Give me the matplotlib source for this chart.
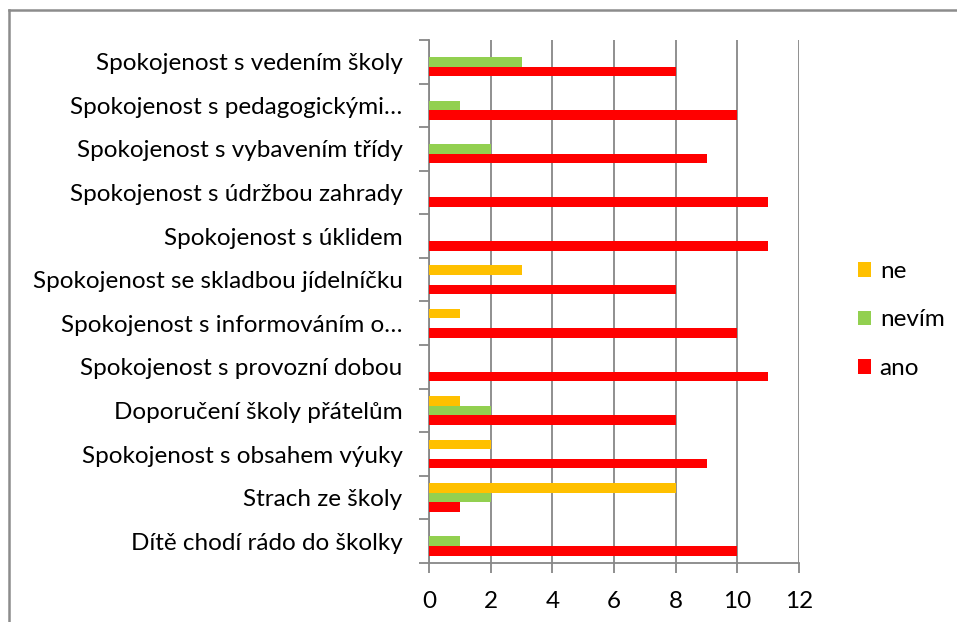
import matplotlib
matplotlib.use("Agg")
import matplotlib.pyplot as plt
from matplotlib.lines import Line2D
import numpy as np

categories = [
    "Spokojenost s vedením školy",
    "Spokojenost s pedagogickými…",
    "Spokojenost s vybavením třídy",
    "Spokojenost s údržbou zahrady",
    "Spokojenost s úklidem",
    "Spokojenost se skladbou jídelníčku",
    "Spokojenost s informováním o…",
    "Spokojenost s provozní dobou",
    "Doporučení školy přátelům",
    "Spokojenost s obsahem výuky",
    "Strach ze školy",
    "Dítě chodí rádo do školky",
]
ne    = [0, 0, 0, 0, 0, 3, 1, 0, 1, 2, 8, 0]
nevim = [3, 1, 2, 0, 0, 0, 0, 0, 2, 0, 2, 1]
ano   = [8, 10, 9, 11, 11, 8, 10, 11, 8, 9, 1, 10]
series_names = ["ne", "nevím", "ano"]
colors = ["#FFC000", "#92D050", "#FF0000"]
xticks = [0, 2, 4, 6, 8, 10, 12]

plt.rcParams['font.family'] = ['Lato', 'DejaVu Sans']
FS = 17.5

fig = plt.figure(figsize=(9.57, 6.22), dpi=100)
ax = fig.add_axes([429/957, 1-563/622, (799-429)/957, (563-40)/622])

n = len(categories)
y = np.arange(n)[::-1].astype(float)
h = 0.22
bars = []
for vals, off, c, name in zip([ne, nevim, ano], [h, 0, -h], colors, series_names):
    b = ax.barh(y + off, vals, height=h, color=c, label=name, zorder=3)
    bars.append(b)

ax.set_ylim(-0.5, n - 0.5)
ax.set_xlim(0, 12)
ax.set_xticks(xticks)
ax.set_yticks(y)
ax.set_yticklabels(categories, fontsize=FS)
ax.set_yticks(np.arange(n + 1) - 0.5, minor=True)
ax.tick_params(axis='y', which='major', length=0, pad=19)
ax.tick_params(axis='y', which='minor', length=7, width=1.3, color='#878787')
ax.tick_params(axis='x', length=7, width=1.3, color='#878787', labelsize=FS, pad=13.5)

grid_c = '#878787'
ax.xaxis.grid(True, color=grid_c, linewidth=1.3, zorder=0)
ax.set_axisbelow(True)
for s in ['top', 'right']:
    ax.spines[s].set_visible(False)
for s in ['left', 'bottom']:
    ax.spines[s].set_color(grid_c)
    ax.spines[s].set_linewidth(1.3)

leg = fig.legend(handles=bars, labels=series_names, loc='center left',
                 bbox_to_anchor=(836/957, 1-320/622), frameon=False,
                 fontsize=FS, handlelength=0.55, handleheight=0.55,
                 handletextpad=0.35, labelspacing=1.14)

# outer chart frame
fig.add_artist(Line2D([9/957, 9/957], [0, 1-10/622], transform=fig.transFigure,
                      color='#8c8c8c', linewidth=1.8))
fig.add_artist(Line2D([9/957, 1], [1-10/622, 1-10/622], transform=fig.transFigure,
                      color='#8c8c8c', linewidth=1.8))

fig.savefig("out.png", dpi=100)
